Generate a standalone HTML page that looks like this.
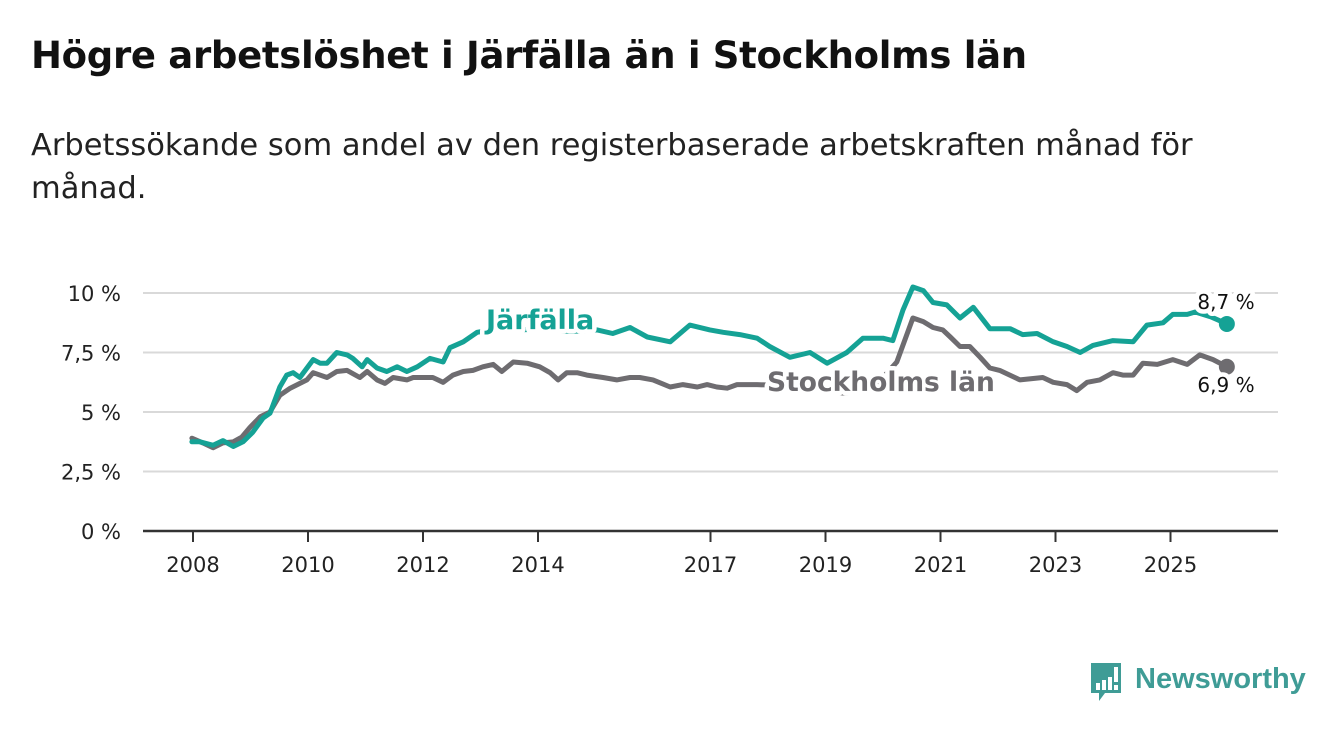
<!DOCTYPE html>
<html><head><meta charset="utf-8"><style>
html,body{margin:0;padding:0;background:#fff;width:1340px;height:734px;overflow:hidden}
body{font-family:"DejaVu Sans","Liberation Sans",sans-serif;color:#111}
h1{position:absolute;left:31px;top:34px;margin:0;font-size:37px;font-weight:700;letter-spacing:-0.3px;white-space:nowrap}
.sub{position:absolute;left:31px;top:124px;margin:0;font-size:30.5px;line-height:43px;width:1290px;color:#222;white-space:nowrap}
svg{position:absolute;left:0;top:0}
</style></head><body>
<h1>Högre arbetslöshet i Järfälla än i Stockholms län</h1>
<p class="sub">Arbetssökande som andel av den registerbaserade arbetskraften månad för<br>månad.</p>
<svg id="chart" width="1340" height="734"></svg>
<div style="position:absolute;left:1089px;top:661px;width:220px;height:44px">
<svg width="36" height="44" style="position:absolute;left:0;top:0">
<path d="M2,2 H32 V32 H16 L10,40 V32 H2 Z" fill="#3f9c96"/>
<rect x="7" y="22" width="4" height="7" fill="#fff"/><rect x="13" y="19" width="4" height="10" fill="#fff"/><rect x="19" y="16" width="4" height="13" fill="#fff"/><rect x="25" y="6" width="4" height="15" fill="#fff"/><rect x="25" y="24" width="4" height="5" fill="#fff"/>
</svg>
<span style="position:absolute;left:46px;top:0;font-family:'Liberation Sans',sans-serif;font-size:29px;font-weight:700;color:#3f9c96;line-height:36px">Newsworthy</span>
</div>
<script>
const yTicks=[0,2.5,5,7.5,10];
const yTickLabels=["0 %","2,5 %","5 %","7,5 %","10 %"];
const xTicks=[2008,2010,2012,2014,2017,2019,2021,2023,2025];
const jTime=[2007.98,2008.12,2008.35,2008.52,2008.70,2008.87,2009.04,2009.22,2009.34,2009.51,2009.63,2009.74,2009.86,2010.09,2010.21,2010.33,2010.50,2010.68,2010.78,2010.94,2011.03,2011.20,2011.37,2011.55,2011.72,2011.90,2012.12,2012.35,2012.47,2012.70,2012.94,2013.3,2013.7,2014.1,2014.5,2014.8,2015.03,2015.30,2015.60,2015.90,2016.30,2016.64,2016.99,2017.22,2017.51,2017.81,2018.03,2018.38,2018.73,2019.03,2019.37,2019.65,2020.0,2020.17,2020.35,2020.52,2020.70,2020.87,2021.11,2021.34,2021.57,2021.86,2022.21,2022.43,2022.68,2022.96,2023.20,2023.43,2023.65,2024.0,2024.35,2024.59,2024.87,2025.04,2025.29,2025.43,2025.7,2025.98];
const jValue=[3.75,3.75,3.6,3.8,3.55,3.75,4.15,4.75,4.95,6.05,6.55,6.65,6.45,7.2,7.05,7.05,7.5,7.4,7.25,6.9,7.2,6.85,6.7,6.9,6.7,6.9,7.25,7.1,7.7,7.95,8.35,8.5,8.45,8.5,8.4,8.4,8.45,8.3,8.55,8.15,7.95,8.65,8.45,8.35,8.25,8.1,7.75,7.3,7.5,7.05,7.5,8.1,8.1,8.0,9.3,10.25,10.1,9.6,9.5,8.95,9.4,8.5,8.5,8.25,8.3,7.95,7.75,7.5,7.8,8.0,7.95,8.65,8.75,9.1,9.1,9.2,9.0,8.7];
const sTime=[2007.98,2008.17,2008.35,2008.52,2008.70,2008.85,2008.99,2009.17,2009.34,2009.51,2009.69,2009.86,2009.98,2010.09,2010.33,2010.50,2010.68,2010.90,2011.03,2011.20,2011.34,2011.48,2011.72,2011.83,2012.07,2012.17,2012.35,2012.52,2012.70,2012.87,2013.04,2013.22,2013.37,2013.57,2013.81,2014.03,2014.21,2014.35,2014.50,2014.68,2014.85,2015.13,2015.37,2015.60,2015.77,2016.0,2016.30,2016.52,2016.77,2016.94,2017.11,2017.29,2017.46,2017.81,2018.3,2018.8,2019.3,2019.8,2020.24,2020.52,2020.70,2020.87,2021.04,2021.17,2021.34,2021.51,2021.69,2021.86,2022.03,2022.38,2022.78,2022.96,2023.20,2023.37,2023.55,2023.77,2024.0,2024.17,2024.35,2024.52,2024.77,2025.04,2025.29,2025.51,2025.74,2025.98];
const sValue=[3.9,3.7,3.5,3.7,3.75,3.95,4.35,4.8,5.0,5.7,6.0,6.2,6.35,6.65,6.45,6.7,6.75,6.45,6.7,6.35,6.2,6.45,6.35,6.45,6.45,6.45,6.25,6.55,6.7,6.75,6.9,7.0,6.7,7.1,7.05,6.9,6.65,6.35,6.65,6.65,6.55,6.45,6.35,6.45,6.45,6.35,6.05,6.15,6.05,6.15,6.05,6.0,6.15,6.15,6.1,6.0,5.8,5.9,7.1,8.95,8.8,8.55,8.45,8.15,7.75,7.75,7.3,6.85,6.75,6.35,6.45,6.25,6.15,5.9,6.25,6.35,6.65,6.55,6.55,7.05,7.0,7.2,7.0,7.4,7.2,6.9];
const X=t=>193+(t-2008)*57.5;
const Y=v=>531-v*23.8;
const NS="http://www.w3.org/2000/svg";
const svg=document.getElementById('chart');
function mk(tag,attrs,parent){const e=document.createElementNS(NS,tag);for(const k in attrs)e.setAttribute(k,attrs[k]);(parent||svg).appendChild(e);return e;}
yTicks.forEach((v,i)=>{
  if(v>0){const g=mk('line',{x1:143,x2:1278,y1:Y(v),y2:Y(v),stroke:'#d9d9d9','stroke-width':2});
  
  }
  const t=mk('text',{x:121,y:Y(v)+8,'text-anchor':'end','font-size':21,fill:'#222'});
  t.textContent=yTickLabels[i];
  
  
});
const ax=mk('line',{x1:143,x2:1278,y1:531,y2:531,stroke:'#333','stroke-width':2.5});


xTicks.forEach(y=>{
  const tk=mk('line',{x1:X(y),x2:X(y),y1:531,y2:542,stroke:'#333','stroke-width':2});
  
  
  const t=mk('text',{x:X(y),y:572,'text-anchor':'middle','font-size':21,fill:'#222'});
  t.textContent=y;
  
  
});
function line(ts,vs,col,name){
  const d=ts.map((t,i)=>(i?'L':'M')+X(t).toFixed(1)+','+Y(vs[i]).toFixed(1)).join(' ');
  const p=mk('path',{d:d,fill:'none',stroke:col,'stroke-width':5,'stroke-linejoin':'round','stroke-linecap':'round'});
  
  
  const n=ts.length-1;
  const c=mk('circle',{cx:X(ts[n]),cy:Y(vs[n]),r:8,fill:col});
  
  
}
line(sTime,sValue,'#6e6c70','stockholm-line');
line(jTime,jValue,'#15a295','jarfalla-line');
function lab(x,y,txt,col,size,w,name,anchor){
  const t=mk('text',{x:x,y:y,'font-size':size,'font-weight':w,fill:col,stroke:'#fff','stroke-width':9,'paint-order':'stroke','stroke-linejoin':'round','text-anchor':anchor||'start'});
  t.textContent=txt;
  
  
}
lab(486,329,'Järfälla','#15a295',27,700,'jarfalla-series-label');
lab(767,391,'Stockholms län','#6e6c70',26.5,700,'stockholm-series-label');
lab(1226,309,'8,7 %','#111',20,400,'jarfalla-end-value','middle');
lab(1226,392,'6,9 %','#111',20,400,'stockholm-end-value','middle');
</script>
</body></html>
